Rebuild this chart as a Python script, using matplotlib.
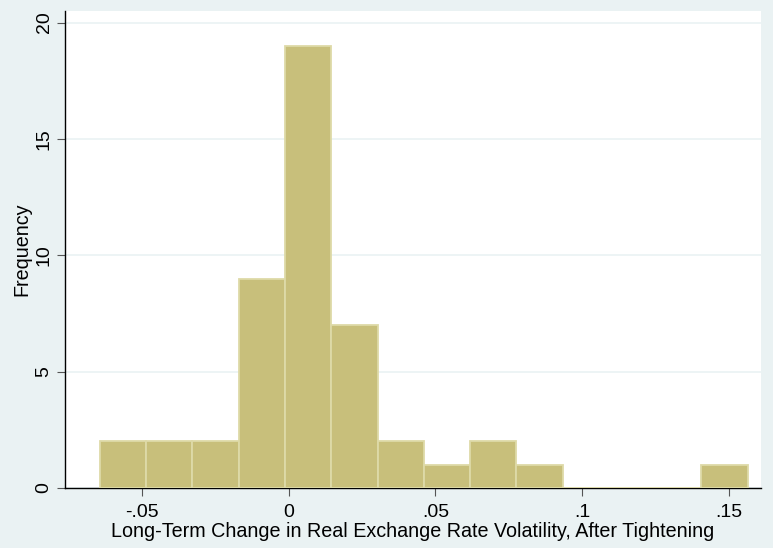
import matplotlib.pyplot as plt
import numpy as np

# histogram: 14 bins starting at -0.0643, width ~0.01576
bin_start = -0.0643
bin_width = 0.01576
counts = [2, 2, 2, 9, 19, 7, 2, 1, 2, 1, 0, 0, 0, 1]
xticks = [-0.05, 0, 0.05, 0.1, 0.15]
xticklabels = ["-.05", "0", ".05", ".1", ".15"]
yticks = [0, 5, 10, 15, 20]

plt.rcParams['font.family'] = ['Liberation Sans', 'DejaVu Sans']

bg = '#EAF2F3'
fig = plt.figure(figsize=(7.73, 5.48), dpi=100, facecolor=bg)
ax = fig.add_axes([0.0841, 0.1095, 0.9004, 0.8705])
ax.set_facecolor('white')

edges = bin_start + bin_width * np.arange(len(counts))
ax.bar(edges, counts, width=bin_width, align='edge', color='#C8BF7B',
       edgecolor='#DEDAA8', linewidth=1.3, zorder=3)

ax.set_xlim(-0.0762, 0.1609)
ax.set_ylim(0, 20.5)
ax.set_xticks(xticks)
ax.set_xticklabels(xticklabels)
ax.set_yticks(yticks)
ax.set_yticklabels([str(v) for v in yticks], rotation=90, va='center')
ax.yaxis.grid(True, color=bg, linewidth=1.2, zorder=0)
ax.set_axisbelow(True)

for s in ['top', 'right']:
    ax.spines[s].set_visible(False)
for s in ['left', 'bottom']:
    ax.spines[s].set_color('black')
    ax.spines[s].set_linewidth(1.0)
ax.tick_params(axis='both', length=6, color='#555555', labelsize=14)
ax.tick_params(axis='x', pad=5.5)
ax.tick_params(axis='y', pad=3)

ax.set_xlabel("Long-Term Change in Real Exchange Rate Volatility, After Tightening",
              fontsize=14.2, labelpad=1)
ax.set_ylabel("Frequency", fontsize=14.2, labelpad=3)

fig.savefig("out.png", dpi=100, facecolor=bg)
